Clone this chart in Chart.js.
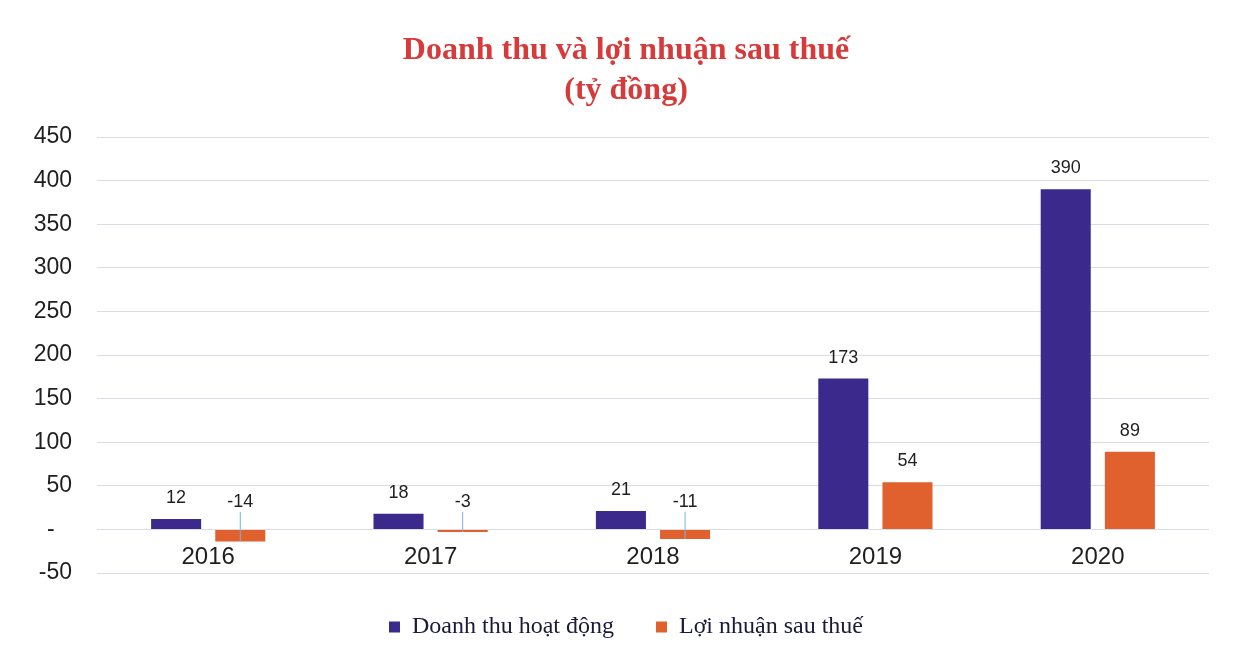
<!DOCTYPE html>
<html>
<head>
<meta charset="utf-8">
<script src="https://cdn.jsdelivr.net/npm/chart.js@4.4.0/dist/chart.umd.min.js"></script>
<style>
  html, body { margin: 0; padding: 0; background: #fff; }
  #wrap { width: 1243px; height: 659px; }
</style>
</head>
<body>
<div id="wrap"><canvas id="chart"></canvas></div>
<script>
// data
const years = ['2016', '2017', '2018', '2019', '2020']
const doanhThu = [12, 18, 21, 173, 390]
const loiNhuan = [-14, -3, -11, 54, 89]
const yMin = -50
const yMax = 450
const yStep = 50

const ctx = document.querySelector('#chart')

// labels above each bar, with a small leader line for the negative ones
const nhanGiaTri = {
  id: 'nhanGiaTri',
  afterDatasetsDraw(chart) {
    const c = chart.ctx
    c.save()
    c.font = '18px "Liberation Sans", Arial, sans-serif'
    c.fillStyle = '#1f1f1f'
    c.textAlign = 'center'
    c.textBaseline = 'bottom'
    chart.data.datasets.forEach((ds, i) => {
      const meta = chart.getDatasetMeta(i)
      meta.data.forEach((bar, j) => {
        const v = ds.data[j]
        const top = Math.min(bar.y, bar.base)
        const yText = v < 0 ? top - 19 : top - 12
        c.fillText(String(v), bar.x, yText)
        if (v < 0) {
          c.strokeStyle = '#7fb2e0'
          c.lineWidth = 1
          c.beginPath()
          c.moveTo(bar.x, yText + 1)
          c.lineTo(bar.x, bar.y)
          c.stroke()
        }
      })
    })
    c.restore()
  }
}

new Chart(ctx, {
  type: 'bar',
  data: {
    labels: years,
    datasets: [{
      label: 'Doanh thu hoạt động',
      data: doanhThu,
      backgroundColor: '#3b2a8c',
      barPercentage: 0.78,
      categoryPercentage: 0.577
    }, {
      label: 'Lợi nhuận sau thuế',
      data: loiNhuan,
      backgroundColor: '#e0602e',
      barPercentage: 0.78,
      categoryPercentage: 0.577
    }]
  },
  options: {
    responsive: true,
    maintainAspectRatio: false,
    animation: false,
    layout: { padding: { left: 30, right: 21, top: 10, bottom: 10 } },
    plugins: {
      title: {
        display: true,
        text: ['Doanh thu và lợi nhuận sau thuế', '(tỷ đồng)'],
        color: '#d63a3a',
        font: { family: '"Liberation Serif", "Times New Roman", serif', size: 32, weight: 'bold', lineHeight: 1.25 },
        padding: { top: 21, bottom: 26 }
      },
      legend: {
        position: 'bottom',
        labels: {
          color: '#1a1a3a',
          font: { family: '"Liberation Serif", "Times New Roman", serif', size: 24 },
          boxWidth: 11,
          boxHeight: 11,
          padding: 42
        }
      },
      tooltip: { enabled: false }
    },
    scales: {
      x: {
        position: { y: 0 },
        grid: { display: false },
        border: { display: false },
        ticks: {
          color: '#1f1f1f',
          font: { family: '"Liberation Sans", Arial, sans-serif', size: 24 },
          padding: 6
        }
      },
      y: {
        min: yMin,
        max: yMax,
        afterFit: scale => { scale.width = 67 },
        grid: { color: '#dadce6', drawTicks: false },
        border: { display: false },
        ticks: {
          stepSize: yStep,
          padding: 25,
          color: '#1f1f1f',
          font: { family: '"Liberation Sans", Arial, sans-serif', size: 23 },
          callback: v => v === 0 ? '-  \u2009' : v
        }
      },
      // empty strip on the right, keeps the plot where the original has it
      le: {
        position: 'right',
        grid: { display: false },
        border: { display: false },
        ticks: { display: false },
        afterFit: scale => { scale.width = 13 }
      }
    }
  },
  plugins: [nhanGiaTri]
})
</script>
</body>
</html>
